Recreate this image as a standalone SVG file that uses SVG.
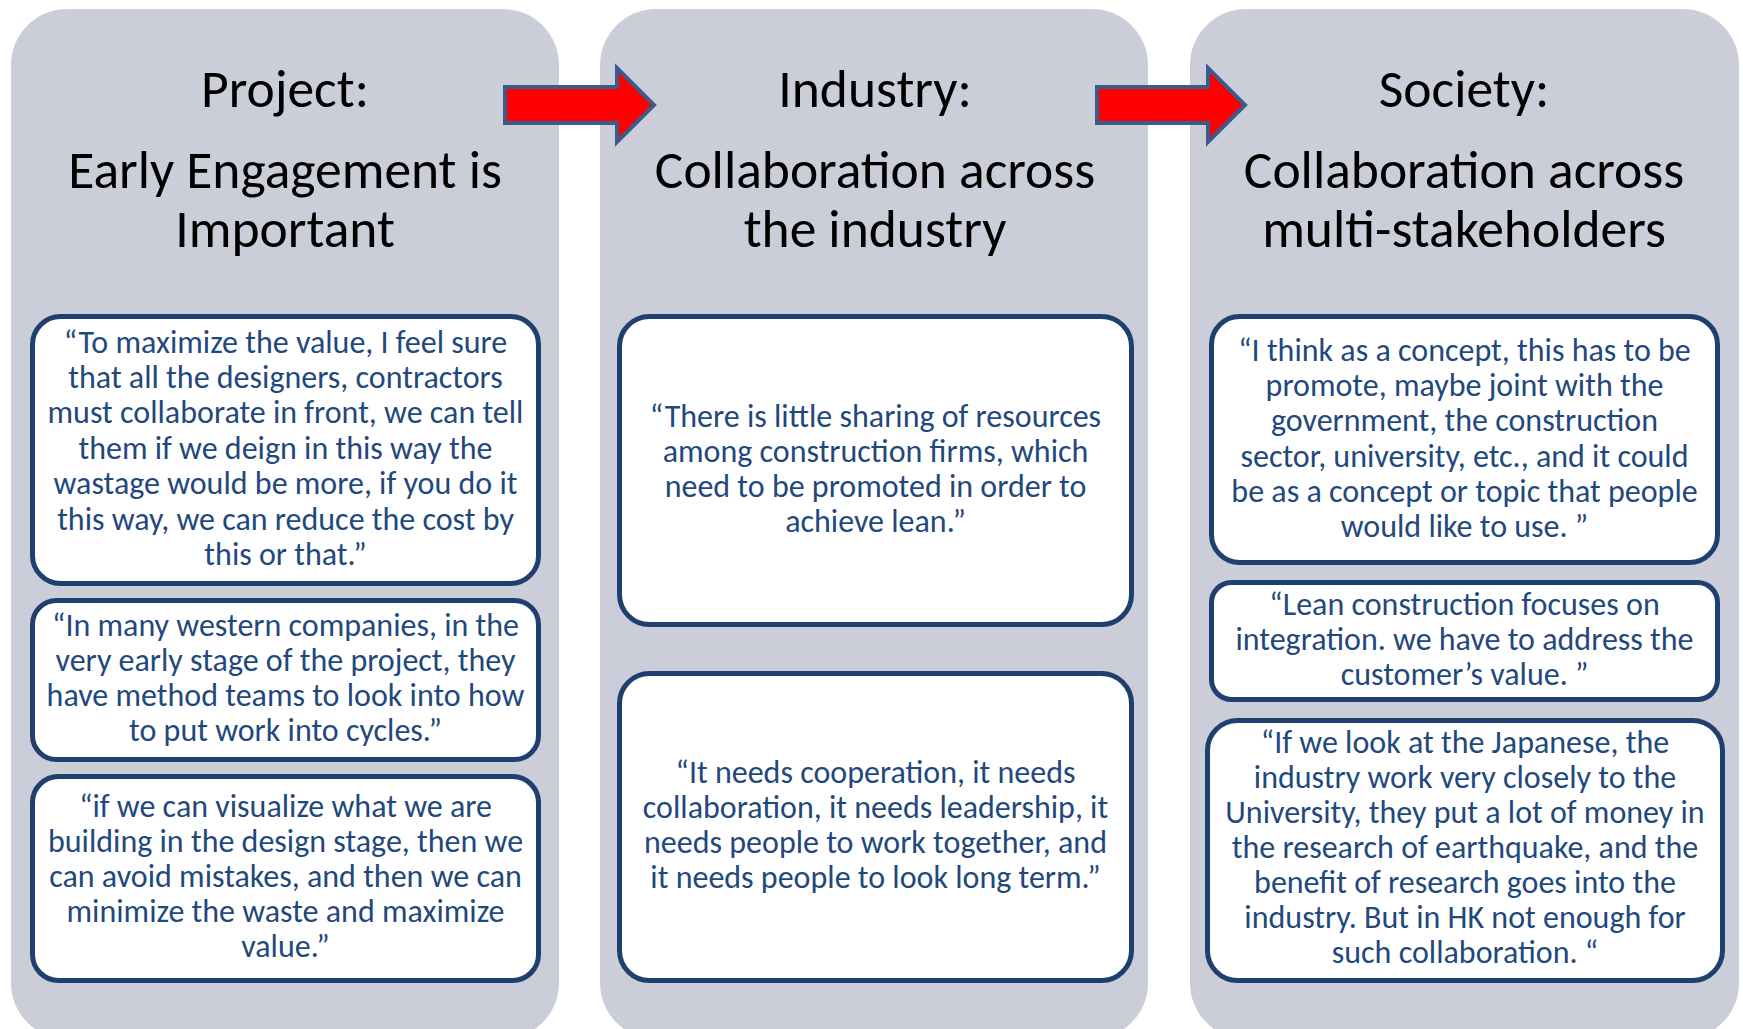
<svg xmlns="http://www.w3.org/2000/svg" width="1743" height="1029" viewBox="0 0 1743 1029">
<style>
.panel{fill:#CBCED8;}
.box{fill:#FFFFFF;stroke:#1F3F6E;stroke-width:5;}
.title{font-family:Carlito,Lato,"Liberation Sans",sans-serif;font-size:53.5px;fill:#000000;text-anchor:middle;}
.q{font-family:Carlito,Lato,"Liberation Sans",sans-serif;font-size:32px;fill:#1F497D;text-anchor:middle;}
.arrow{fill:#FF0000;stroke:#3C5A8A;stroke-width:4;stroke-linejoin:miter;}
</style>
<rect width="1743" height="1029" fill="#FFFFFF"/>
<g id="panel-project">
<rect class="panel" x="11" y="9" width="548" height="1030" rx="56" ry="56"/>
<text class="title" x="285" y="107">Project:</text>
<text class="title" x="285" y="188">Early Engagement is</text>
<text class="title" x="285" y="247">Important</text>
</g>
<g id="panel-industry">
<rect class="panel" x="600" y="9" width="548" height="1030" rx="56" ry="56"/>
<text class="title" x="875" y="107">Industry:</text>
<text class="title" x="875" y="188">Collaboration across</text>
<text class="title" x="875" y="247">the industry</text>
</g>
<g id="panel-society">
<rect class="panel" x="1190" y="9" width="549" height="1030" rx="56" ry="56"/>
<text class="title" x="1464" y="107">Society:</text>
<text class="title" x="1464" y="188">Collaboration across</text>
<text class="title" x="1464" y="247">multi-stakeholders</text>
</g>
<g id="quote-project-1">
<rect class="box" x="32.5" y="316.5" width="506" height="267" rx="28"/>
<text class="q" x="285.5" y="353">“To maximize the value, I feel sure</text>
<text class="q" x="285.5" y="388">that all the designers, contractors</text>
<text class="q" x="285.5" y="423">must collaborate in front, we can tell</text>
<text class="q" x="285.5" y="459">them if we deign in this way the</text>
<text class="q" x="285.5" y="494">wastage would be more, if you do it</text>
<text class="q" x="285.5" y="530">this way, we can reduce the cost by</text>
<text class="q" x="285.5" y="565">this or that.”</text>
</g>
<g id="quote-project-2">
<rect class="box" x="32.5" y="600.5" width="506" height="159" rx="24"/>
<text class="q" x="285.5" y="636">“In many western companies, in the</text>
<text class="q" x="285.5" y="671">very early stage of the project, they</text>
<text class="q" x="285.5" y="706">have method teams to look into how</text>
<text class="q" x="285.5" y="741">to put work into cycles.”</text>
</g>
<g id="quote-project-3">
<rect class="box" x="32.5" y="776.5" width="506" height="204" rx="26"/>
<text class="q" x="285.5" y="817">“if we can visualize what we are</text>
<text class="q" x="285.5" y="852">building in the design stage, then we</text>
<text class="q" x="285.5" y="887">can avoid mistakes, and then we can</text>
<text class="q" x="285.5" y="922">minimize the waste and maximize</text>
<text class="q" x="285.5" y="957">value.”</text>
</g>
<g id="quote-industry-1">
<rect class="box" x="619.5" y="316.5" width="512" height="308" rx="30"/>
<text class="q" x="875.5" y="427">“There is little sharing of resources</text>
<text class="q" x="875.5" y="462">among construction firms, which</text>
<text class="q" x="875.5" y="497">need to be promoted in order to</text>
<text class="q" x="875.5" y="532">achieve lean.”</text>
</g>
<g id="quote-industry-2">
<rect class="box" x="619.5" y="673.5" width="512" height="307" rx="30"/>
<text class="q" x="875.5" y="783">“It needs cooperation, it needs</text>
<text class="q" x="875.5" y="818">collaboration, it needs leadership, it</text>
<text class="q" x="875.5" y="853">needs people to work together, and</text>
<text class="q" x="875.5" y="888">it needs people to look long term.”</text>
</g>
<g id="quote-society-1">
<rect class="box" x="1211.5" y="316.5" width="506" height="246" rx="28"/>
<text class="q" x="1464.5" y="361">“I think as a concept, this has to be</text>
<text class="q" x="1464.5" y="396">promote, maybe joint with the</text>
<text class="q" x="1464.5" y="431">government, the construction</text>
<text class="q" x="1464.5" y="467">sector, university, etc., and it could</text>
<text class="q" x="1464.5" y="502">be as a concept or topic that people</text>
<text class="q" x="1464.5" y="537">would like to use. ”</text>
</g>
<g id="quote-society-2">
<rect class="box" x="1211.5" y="582.5" width="506" height="117" rx="20"/>
<text class="q" x="1464.5" y="615">“Lean construction focuses on</text>
<text class="q" x="1464.5" y="650">integration. we have to address the</text>
<text class="q" x="1464.5" y="685">customer’s value. ”</text>
</g>
<g id="quote-society-3">
<rect class="box" x="1207.5" y="720.5" width="515" height="260" rx="30"/>
<text class="q" x="1465" y="753">“If we look at the Japanese, the</text>
<text class="q" x="1465" y="788">industry work very closely to the</text>
<text class="q" x="1465" y="823">University, they put a lot of money in</text>
<text class="q" x="1465" y="858">the research of earthquake, and the</text>
<text class="q" x="1465" y="893">benefit of research goes into the</text>
<text class="q" x="1465" y="928">industry. But in HK not enough for</text>
<text class="q" x="1465" y="963">such collaboration. “</text>
</g>
<g id="connectors">
<polygon class="arrow" points="505,87 617,87 617,68 654,105 617,142 617,123 505,123"/>
<polygon class="arrow" points="1097,87 1208,87 1208,68 1245,105 1208,142 1208,123 1097,123"/>
</g>
</svg>
